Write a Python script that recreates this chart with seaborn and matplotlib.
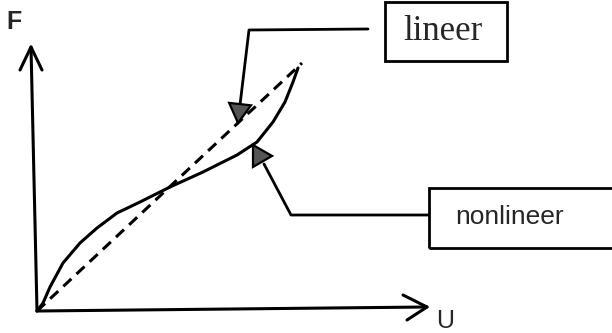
import numpy as np
import pandas as pd
import matplotlib.pyplot as plt
from matplotlib.patches import Polygon, Rectangle
import seaborn as sns

# kurvenpunkte (U, F), ursprung unten links
u_nonlin = [0, 6, 13, 26, 43, 60, 80, 103, 133, 166, 200, 220, 236, 248, 256, 261]
f_nonlin = [0, 8, 24, 48, 68, 83, 98, 109, 124, 139, 156, 169, 189, 209, 229, 243]
u_lin = [0, 265]
f_lin = [0, 248]

labels = ['lineer', 'nonlineer']
axis_names = ['F', 'U']

sns.set_style('white')
plt.rcParams['font.family'] = ['Liberation Sans', 'DejaVu Sans']

fig = plt.figure(figsize=(6.12, 3.33), dpi=100)
ax = fig.add_axes([0, 0, 1, 1])

df_nl = pd.DataFrame({'U': u_nonlin, 'F': f_nonlin})
df_l = pd.DataFrame({'U': u_lin, 'F': f_lin})
sns.lineplot(data=df_nl, x='U', y='F', color='black', lw=2.2, ax=ax,
             estimator=None, sort=False, solid_joinstyle='round')
sns.lineplot(data=df_l, x='U', y='F', color='black', lw=2.2, ax=ax,
             estimator=None, sort=False, linestyle=(0, (3.6, 2.3)))

# achsen mit offenen pfeilspitzen
k = dict(color='black', lw=2.2, solid_capstyle='round', solid_joinstyle='round')
ax.plot([0, -6], [0, 264], **k)
ax.plot([-17, -6, 5], [241, 264, 241], **k)
ax.plot([0, 390], [0, 4], **k)
ax.plot([366, 390, 370], [16, 4, -9], **k)
ax.text(-23, 289, axis_names[0], fontsize=18, fontweight='bold', ha='center', va='center')
ax.text(408, -10, axis_names[1], fontsize=18, ha='center', va='center')


def callout(pts, tip):
    xs = [p[0] for p in pts]
    ys = [p[1] for p in pts]
    ax.plot(xs, ys, color='black', lw=2.0)
    # dreieck als pfeilspitze
    d = np.array(tip) - np.array(pts[-1])
    d = d / np.hypot(*d)
    n = np.array([-d[1], d[0]])
    base = np.array(tip) - 19 * d
    tri = [tip, base + 11 * n, base - 11 * n]
    ax.add_patch(Polygon(tri, closed=True, facecolor='#555555',
                         edgecolor='black', lw=1.6, zorder=5))


callout([(331, 282), (212, 281), (203, 206)], (201, 188))
callout([(391, 96), (254, 96), (227, 147)], (216, 166))

ax.add_patch(Rectangle((348, 250), 122, 59, fill=False, ec='black', lw=2.0))
ax.text(406, 279, labels[0], fontsize=25, family=['Liberation Serif'],
        ha='center', va='center')
ax.add_patch(Rectangle((392, 63), 200, 60, fill=False, ec='black', lw=2.0))
ax.text(473, 94, labels[1], fontsize=19, ha='center', va='center')

ax.set_xlim(-37, 575)
ax.set_ylim(-22, 311)
ax.axis('off')

fig.savefig('out.png', dpi=100, facecolor='white')
